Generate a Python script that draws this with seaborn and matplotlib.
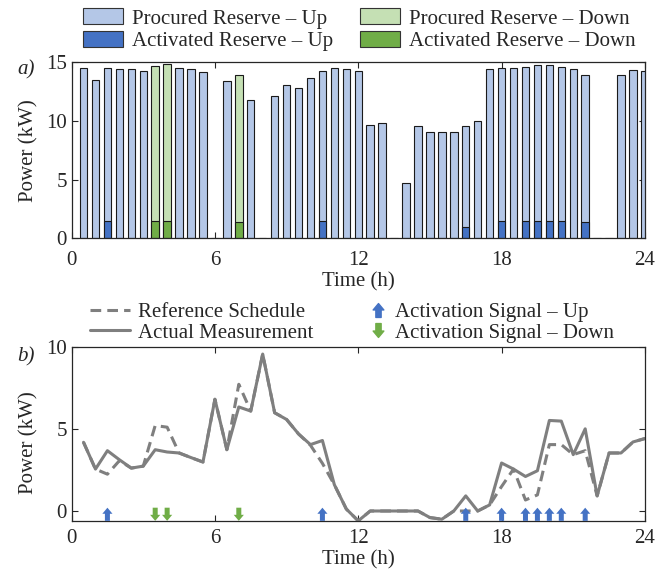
import numpy as np
import pandas as pd
import matplotlib
matplotlib.use("Agg")
import matplotlib.pyplot as plt
from matplotlib.patches import Patch
from matplotlib.lines import Line2D
from matplotlib.path import Path
import seaborn as sns

# half-hourly time slots
t = [0.5 * k for k in range(1, 49)]

# --- a) reserve (kW) ---
procured_up = [14.5, 13.5, 14.55, 14.4, 14.4, 14.25, 0, 0, 14.55, 14.4, 14.15, 0,
               13.4, 0, 11.8, 0, 12.15, 13.1, 12.8, 13.7, 14.3, 14.5, 14.45, 14.3,
               9.65, 9.8, 0, 4.75, 9.6, 9.05, 9.05, 9.1, 9.6, 10.0, 14.4, 14.5,
               14.5, 14.65, 14.8, 14.8, 14.65, 14.45, 13.9, 0, 0, 13.95, 14.35, 14.25]
procured_down = [0, 0, 0, 0, 0, 0, 14.7, 14.85, 0, 0, 0, 0,
                 0, 13.9, 0, 0, 0, 0, 0, 0, 0, 0, 0, 0,
                 0, 0, 0, 0, 0, 0, 0, 0, 0, 0, 0, 0,
                 0, 0, 0, 0, 0, 0, 0, 0, 0, 0, 0, 0]
activated_up = [0, 0, 1.48, 0, 0, 0, 0, 0, 0, 0, 0, 0,
                0, 0, 0, 0, 0, 0, 0, 0, 1.48, 0, 0, 0,
                0, 0, 0, 0, 0, 0, 0, 0, 0.97, 0, 0, 1.48,
                0, 1.48, 1.52, 1.52, 1.5, 0, 1.4, 0, 0, 0, 0, 0]
activated_down = [0, 0, 0, 0, 0, 0, 1.48, 1.5, 0, 0, 0, 0,
                  0, 1.42, 0, 0, 0, 0, 0, 0, 0, 0, 0, 0,
                  0, 0, 0, 0, 0, 0, 0, 0, 0, 0, 0, 0,
                  0, 0, 0, 0, 0, 0, 0, 0, 0, 0, 0, 0]

# --- b) power (kW) ---
actual = [4.18, 2.55, 3.67, 3.12, 2.61, 2.73, 3.73, 3.59, 3.53, 3.25, 2.98, 6.8,
          3.73, 6.33, 6.08, 9.55, 5.98, 5.57, 4.69, 4.04, 4.29, 1.6, 0.12, -0.6,
          0, 0, 0, 0, 0, -0.4, -0.5, 0, 0.92, 0, 0.37, 2.92,
          2.55, 2.1, 2.45, 5.51, 5.47, 3.43, 5.0, 0.92, 3.53, 3.53, 4.2, 4.41]
reference = [4.18, 2.55, 2.24, 3.06, 2.61, 2.73, 5.2, 5.1, 3.53, 3.25, 2.98, 6.8,
             3.73, 7.71, 6.08, 9.55, 5.98, 5.57, 4.69, 4.0, 2.9, 1.6, 0.12, -0.6,
             0, 0, 0, 0, 0, -0.4, -0.5, 0, 0, 0, 0.37, 1.49,
             2.55, 0.67, 0.98, 4.04, 4.04, 3.43, 3.67, 0.92, 3.53, 3.53, 4.2, 4.41]
signal_up_t = [1.5, 10.5, 16.5, 18.0, 19.0, 19.5, 20.0, 20.5, 21.5]
signal_down_t = [3.5, 4.0, 7.0]
signal_level = -0.2

c_pu, c_au = "#b4c7e7", "#4472c4"
c_pd, c_ad = "#c5e0b4", "#70ad47"
c_line = "#7f7f7f"

sns.set_style("ticks")
plt.rcParams["font.family"] = ["Liberation Serif", "DejaVu Serif"]
plt.rcParams["font.size"] = 15
plt.rcParams["xtick.direction"] = "in"
plt.rcParams["ytick.direction"] = "in"
plt.rcParams["xtick.top"] = True
plt.rcParams["ytick.right"] = True
plt.rcParams["xtick.major.pad"] = 6
plt.rcParams["xtick.major.size"] = 4
plt.rcParams["ytick.major.size"] = 4
plt.rcParams["axes.linewidth"] = 0.9

fig = plt.figure(figsize=(6.69, 5.73), dpi=100)
ax1 = fig.add_axes([0.107, 0.584, 0.857, 0.307])
ax2 = fig.add_axes([0.107, 0.091, 0.857, 0.304])

df = pd.DataFrame({"t": t, "pu": procured_up, "pd": procured_down,
                   "au": activated_up, "ad": activated_down})
bar_kw = dict(native_scale=True, width=0.62, edgecolor="#1a1a1a", linewidth=0.8)
sns.barplot(data=df, x="t", y="pu", color=c_pu, saturation=1, ax=ax1, **bar_kw)
sns.barplot(data=df[df.pd > 0], x="t", y="pd", color=c_pd, saturation=1, ax=ax1, **bar_kw)
sns.barplot(data=df[df.au > 0], x="t", y="au", color=c_au, saturation=1, ax=ax1, **bar_kw)
sns.barplot(data=df[df.ad > 0], x="t", y="ad", color=c_ad, saturation=1, ax=ax1, **bar_kw)
ax1.set_xlim(0, 24)
ax1.set_ylim(0, 15)
ax1.set_xticks([0, 6, 12, 18, 24])
ax1.set_xticklabels(["0", "6", "12", "18", "24"])
ax1.set_yticks([0, 5, 10, 15])
ax1.tick_params(axis="x", pad=9)
ax1.set_xlabel("Time (h)", labelpad=1.5)
ax1.set_ylabel("Power (kW)")
ax1.yaxis.set_label_coords(-0.057, 0.5)
ax1.text(-0.064, 0.956, "a)", transform=ax1.transAxes, style="italic",
         ha="right", va="center")

# arrow markers
up_arrow = Path([(-0.38, -1), (0.38, -1), (0.38, 0.08), (0.77, 0.08), (0, 1),
                 (-0.77, 0.08), (-0.38, 0.08), (-0.38, -1)], closed=True)
down_arrow = Path([(x, -y) for x, y in up_arrow.vertices], closed=True)

lf = pd.DataFrame({"t": t, "act": actual, "ref": reference})
sns.lineplot(data=lf, x="t", y="ref", color=c_line, lw=2.2, ax=ax2, linestyle=(0, (3.5, 2)))
sns.lineplot(data=lf, x="t", y="act", color=c_line, lw=2.2, ax=ax2)
sns.scatterplot(x=signal_up_t, y=[signal_level] * len(signal_up_t), marker=up_arrow,
                s=90, color=c_au, edgecolor="none", ax=ax2, zorder=5)
sns.scatterplot(x=signal_down_t, y=[signal_level] * len(signal_down_t), marker=down_arrow,
                s=90, color=c_ad, edgecolor="none", ax=ax2, zorder=5)
ax2.set_xlim(0, 24)
ax2.set_ylim(-0.6, 10)
ax2.set_xticks([0, 6, 12, 18, 24])
ax2.set_yticks([0, 5, 10])
ax2.set_xlabel("Time (h)", labelpad=1.5)
ax2.set_ylabel("Power (kW)")
ax2.yaxis.set_label_coords(-0.057, 0.45)
ax2.text(-0.064, 0.94, "b)", transform=ax2.transAxes, style="italic",
         ha="right", va="center")

h1 = [Patch(facecolor=c_pu, edgecolor="#333333", lw=0.8, label="Procured Reserve – Up"),
      Patch(facecolor=c_au, edgecolor="#333333", lw=0.8, label="Activated Reserve – Up"),
      Patch(facecolor=c_pd, edgecolor="#333333", lw=0.8, label="Procured Reserve – Down"),
      Patch(facecolor=c_ad, edgecolor="#333333", lw=0.8, label="Activated Reserve – Down")]
fig.legend(handles=h1, ncol=2, loc="center left", bbox_to_anchor=(0.124, 0.948),
           frameon=False, handlelength=1.92, handleheight=0.82, handletextpad=0.43,
           columnspacing=1.3, labelspacing=0.12, borderpad=0, borderaxespad=0)

h2 = [Line2D([], [], color=c_line, lw=2.2, linestyle=(0, (3.5, 2)), label="Reference Schedule"),
      Line2D([], [], color=c_line, lw=2.2, label="Actual Measurement")]
fig.legend(handles=h2, loc="center left", bbox_to_anchor=(0.1345, 0.437),
           frameon=False, handlelength=1.92, handletextpad=0.4,
           labelspacing=0.05, borderpad=0, borderaxespad=0)
h3 = [Line2D([], [], color=c_au, lw=0, marker=up_arrow, markersize=10, label="Activation Signal – Up"),
      Line2D([], [], color=c_ad, lw=0, marker=down_arrow, markersize=10, label="Activation Signal – Down")]
fig.legend(handles=h3, loc="center left", bbox_to_anchor=(0.553, 0.437),
           frameon=False, handlelength=0.8, handletextpad=0.4,
           labelspacing=0.05, borderpad=0, borderaxespad=0)

fig.savefig("out.png", dpi=100)
